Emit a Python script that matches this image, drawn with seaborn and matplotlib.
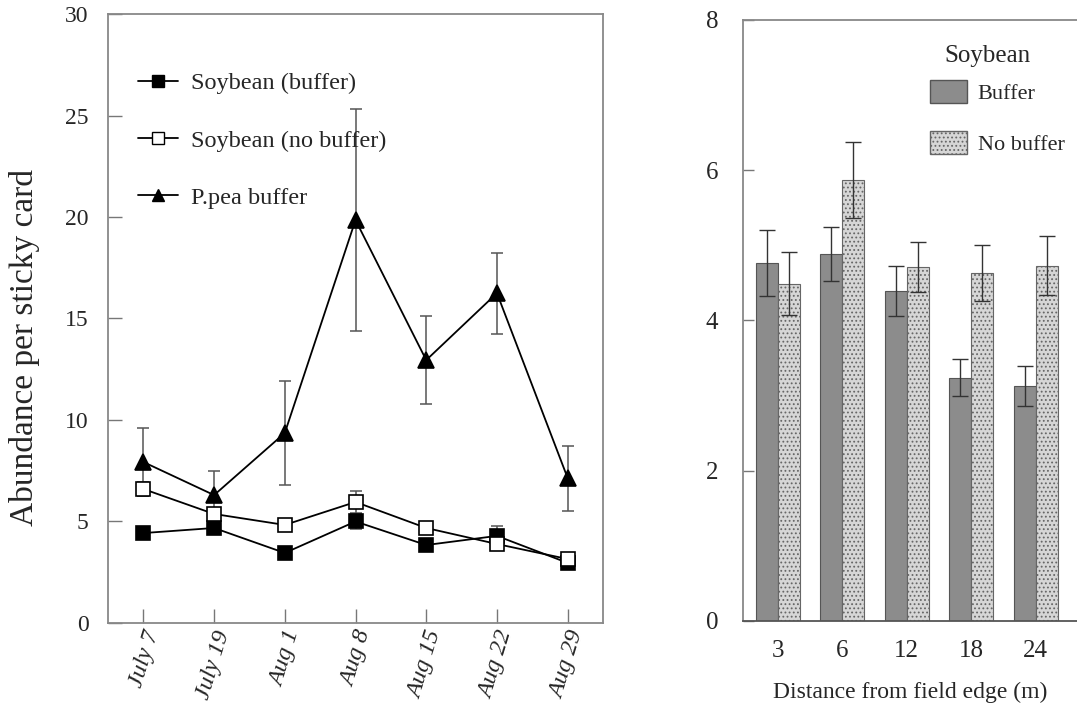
import numpy as np
import pandas as pd
import matplotlib
matplotlib.use("Agg")
import matplotlib.pyplot as plt
import matplotlib.transforms as mtransforms
import seaborn as sns
from matplotlib.lines import Line2D
from matplotlib.patches import Patch

# ---------------- data ----------------
dates = ["July 7", "July 19", "Aug 1", "Aug 8", "Aug 15", "Aug 22", "Aug 29"]
series_names = ["Soybean (buffer)", "Soybean (no buffer)", "P.pea buffer"]
soy_buffer = [4.43, 4.68, 3.45, 5.00, 3.84, 4.29, 2.96]
soy_buffer_se = [0.25, 0.3, 0.25, 0.35, 0.25, 0.5, 0.2]
soy_nobuffer = [6.60, 5.37, 4.83, 5.96, 4.68, 3.89, 3.15]
soy_nobuffer_se = [0.35, 0.3, 0.25, 0.55, 0.25, 0.3, 0.2]
ppea_buffer = [7.93, 6.30, 9.36, 19.85, 12.95, 16.25, 7.14]
ppea_buffer_se = [1.67, 1.20, 2.55, 5.45, 2.15, 2.00, 1.60]

distances = ["3", "6", "12", "18", "24"]
treatments = ["Buffer", "No buffer"]
bar_buffer = [4.77, 4.89, 4.39, 3.24, 3.13]
bar_buffer_se = [0.44, 0.36, 0.33, 0.25, 0.27]
bar_nobuffer = [4.49, 5.87, 4.71, 4.63, 4.73]
bar_nobuffer_se = [0.42, 0.50, 0.33, 0.37, 0.39]

sns.set_theme(style="ticks")
plt.rcParams["font.family"] = ["Liberation Serif", "DejaVu Serif"]
plt.rcParams["hatch.color"] = "#a8a8a8"
plt.rcParams["hatch.linewidth"] = 0.8

fig = plt.figure(figsize=(10.77, 7.15), dpi=100)
ax1 = fig.add_axes([0.1003, 0.1287, 0.4596, 0.8517])
ax2 = fig.add_axes([0.6899, 0.1315, 0.3101, 0.8406])

# ---------------- left: line chart ----------------
df_line = pd.DataFrame({
    "date": dates * 3,
    "value": soy_buffer + soy_nobuffer + ppea_buffer,
    "se": soy_buffer_se + soy_nobuffer_se + ppea_buffer_se,
    "series": sum([[s] * len(dates) for s in series_names], []),
})

# error bars (behind)
for name in series_names:
    sub = df_line[df_line["series"] == name]
    ax1.errorbar(sub["date"], sub["value"], yerr=sub["se"], fmt="none",
                 ecolor="#555555", elinewidth=1.1, capsize=4, capthick=1.1, zorder=1)

n_before = len(ax1.lines)
markers = {"Soybean (buffer)": "s", "Soybean (no buffer)": "s", "P.pea buffer": "^"}
sns.lineplot(data=df_line, x="date", y="value", hue="series", style="series",
             markers=markers, dashes=False, palette=["black"] * 3, ax=ax1,
             markersize=10, linewidth=1.3, markeredgecolor="black",
             markeredgewidth=1.2, legend=False, zorder=3, sort=False)
new_lines = ax1.lines[n_before:]
for ln in new_lines:
    yd = np.asarray(ln.get_ydata(), dtype=float)
    if len(yd) == len(dates) and np.allclose(yd, soy_nobuffer):
        ln.set_markerfacecolor("white")
    if len(yd) == len(dates) and np.allclose(yd, ppea_buffer):
        ln.set_markersize(11)

ax1.set_ylim(0, 30)
ax1.set_xlim(-0.5, 6.5)
ax1.set_yticks([0, 5, 10, 15, 20, 25, 30])
ax1.set_xlabel("")
ax1.set_ylabel("Abundance per sticky card", fontsize=24)
ax1.yaxis.set_label_coords(-0.138, 0.453)
ax1.tick_params(axis="both", direction="in", length=10, width=1, color="#777777",
                labelsize=17, pad=14)
ax1.tick_params(axis="x", pad=6)
shift = mtransforms.ScaledTranslation(7 / 72, 0, fig.dpi_scale_trans)
for lab in ax1.get_xticklabels():
    lab.set_rotation(73)
    lab.set_fontstyle("italic")
    lab.set_rotation_mode("anchor")
    lab.set_ha("right")
    lab.set_va("center")
    lab.set_fontsize(17.5)
    lab.set_transform(lab.get_transform() + shift)
for sp in ax1.spines.values():
    sp.set_color("#888888")
    sp.set_linewidth(1.3)

h = [Line2D([], [], color="black", marker="s", markersize=8, lw=1.3, mfc="black", mec="black"),
     Line2D([], [], color="black", marker="s", markersize=8, lw=1.3, mfc="white", mec="black"),
     Line2D([], [], color="black", marker="^", markersize=8, lw=1.3, mfc="black", mec="black")]
ax1.legend(h, series_names, loc="upper left", frameon=False, fontsize=17.5,
           labelspacing=1.45, handlelength=1.65, handletextpad=0.55,
           bbox_to_anchor=(0.016, 0.94))

# ---------------- right: bar chart ----------------
df_bar = pd.DataFrame({
    "distance": distances * 2,
    "value": bar_buffer + bar_nobuffer,
    "se": bar_buffer_se + bar_nobuffer_se,
    "treatment": ["Buffer"] * 5 + ["No buffer"] * 5,
})
sns.barplot(data=df_bar, x="distance", y="value", hue="treatment",
            palette=["#8c8c8c", "#d6d6d6"], width=0.68, errorbar=None,
            ax=ax2, legend=False, edgecolor="#555555", linewidth=0.8, zorder=2)
patches = [p for p in ax2.patches]
for p in patches[5:10]:
    p.set_hatch("....")
    p.set_edgecolor("#666666")
# error bars at the bar centres
for p, (_, row) in zip(patches[:10], df_bar.iterrows()):
    cx = p.get_x() + p.get_width() / 2
    ax2.errorbar([cx], [row["value"]], yerr=[row["se"]], fmt="none",
                 ecolor="#333333", elinewidth=1.0, capsize=6, capthick=1.0, zorder=3)

ax2.set_ylim(0, 8)
ax2.set_xlim(-0.54, 4.64)
ax2.set_yticks([0, 2, 4, 6, 8])
ax2.set_xlabel("Distance from field edge (m)", fontsize=17, labelpad=14)
ax2.set_ylabel("")
ax2.tick_params(axis="y", direction="in", length=8, width=1, color="#777777",
                labelsize=18, pad=18)
ax2.tick_params(axis="x", length=0, labelsize=18, pad=14)
ax2.spines["right"].set_visible(False)
for sp in ["top", "left", "bottom"]:
    ax2.spines[sp].set_color("#888888")
    ax2.spines[sp].set_linewidth(1.3)
ax2.spines["bottom"].set_color("#555555")

hb = [Patch(facecolor="#8c8c8c", edgecolor="#555555"),
      Patch(facecolor="#d6d6d6", edgecolor="#666666", hatch="....")]
ax2.legend(hb, treatments, loc="upper left", frameon=False,
           fontsize=16, labelspacing=1.2, handlelength=1.65,
           handleheight=1.2, handletextpad=0.5, bbox_to_anchor=(0.50, 0.933))
ax2.text(0.733, 0.94, "Soybean", transform=ax2.transAxes, ha="center",
         va="center", fontsize=18)

fig.savefig("out.png", dpi=100)
